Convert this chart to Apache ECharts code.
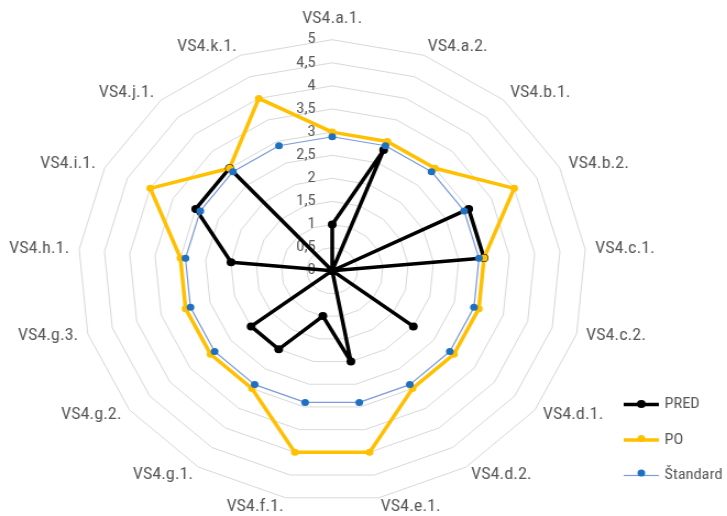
<!DOCTYPE html>
<html>
<head>
<meta charset="utf-8">
<script src="https://cdn.jsdelivr.net/npm/echarts@6/dist/echarts.min.js"></script>
<style>
html,body{margin:0;padding:0;background:#fff;overflow:hidden;width:727px;height:516px;}
#chart{width:661px;height:516px;transform:scaleX(1.1);transform-origin:0 0;}
</style>
</head>
<body>
<div id="chart"></div>
<script>
const categories = ['VS4.a.1.','VS4.a.2.','VS4.b.1.','VS4.b.2.','VS4.c.1.','VS4.c.2.','VS4.d.1.','VS4.d.2.','VS4.e.1.','VS4.f.1.','VS4.g.1.','VS4.g.2.','VS4.g.3.','VS4.h.1.','VS4.i.1.','VS4.j.1.','VS4.k.1.'];
const pred     = [1, 2.8, 0, 3, 3, 0, 2, 0, 2, 1, 2, 2, 0, 2, 3, 3, 0];
const po       = [3, 3, 3, 4, 3, 3, 3, 3, 4, 4, 3, 3, 3, 3, 4, 3, 4];
const standard = [2.9, 2.9, 2.9, 2.9, 2.9, 2.9, 2.9, 2.9, 2.9, 2.9, 2.9, 2.9, 2.9, 2.9, 2.9, 2.9, 2.9];
const seriesNames = ['PRED', 'PO', 'Štandard'];
const axisMin = 0, axisMax = 5, axisSplits = 10;

// ---- pick the narrowest installed sans font and size text to the reference widths ----
const mctx = document.createElement('canvas').getContext('2d');
function textW(family, size, txt) { mctx.font = size + 'px ' + family; return mctx.measureText(txt).width; }
function isInstalled(name) {
  const s = 'VS4.a.1. PRED Standard 0123456789';
  return textW("'" + name + "', monospace", 100, s) !== textW('monospace', 100, s) ||
         textW("'" + name + "', serif", 100, s) !== textW('serif', 100, s);
}
const candidates = ['Liberation Sans Narrow', 'Arial Narrow', 'Roboto Condensed', 'DejaVu Sans Condensed',
                    'Noto Sans Condensed', 'Open Sans Condensed', 'Liberation Sans'];
const picked = candidates.find(isInstalled);
const FONT = picked ? "'" + picked + "', sans-serif" : 'sans-serif';
function sizeFor(txt, targetW, lo, hi) {
  const s = targetW / (textW(FONT, 100, txt) / 100);
  return Math.max(lo, Math.min(hi, Math.round(s * 10) / 10));
}
const SX = 1.1; // horizontal stretch of the reference picture
const nameSize   = sizeFor('VS4.c.1.', 60 / SX, 12, 18);
const tickSize   = sizeFor('2,5', 19.5 / SX, 11, 17);
const legendSize = sizeFor('Štandard', 58 / SX, 11, 16);

// ECharts lays radar indicators counter-clockwise; reorder so they run clockwise like the reference
const order = categories.map((_, i) => (categories.length - i) % categories.length);
const reorder = arr => order.map(k => arr[k]);

const lineColors   = ['#000000', '#FFC000', '#7b9bd9'];
const markerColors = ['#000000', '#FFC000', '#1f70c1'];
const lineWidths   = [3.5, 3.5, 1.2];
const markerSizes  = [8, 7, 7];

// legend icons drawn in a 32x14 box: a line, and (separately) a centred dot
const IW = 32, IH = 14;
function lineIcon(w) {
  const y0 = (IH - w) / 2, y1 = (IH + w) / 2;
  return 'path://M0,' + y0 + 'L' + IW + ',' + y0 + 'L' + IW + ',' + y1 + 'L0,' + y1 + 'Z';
}
function dotIcon(d) {
  const r = d / 2, cx = IW / 2, cy = IH / 2;
  return 'path://M0,0L0.001,0L0,0.001Z' +
         'M' + IW + ',' + IH + 'L' + (IW - 0.001) + ',' + IH + 'L' + IW + ',' + (IH - 0.001) + 'Z' +
         'M' + (cx - r) + ',' + cy + 'A' + r + ',' + r + ' 0 1 1 ' + (cx + r) + ',' + cy +
         'A' + r + ',' + r + ' 0 1 1 ' + (cx - r) + ',' + cy + 'Z';
}
const legendBase = {
  orient: 'vertical', left: 567, top: 397, itemWidth: IW, itemHeight: IH, itemGap: 20.5, padding: 0,
  textStyle: {color: '#595959', fontSize: legendSize, fontFamily: FONT, lineHeight: 14}
};

const chart = echarts.init(document.getElementById('chart'), null, {renderer: 'canvas'});
chart.setOption({
  animation: false,
  backgroundColor: '#ffffff',
  legend: [
    Object.assign({}, legendBase, {
      data: seriesNames.map((n, i) => ({name: n, icon: lineIcon(lineWidths[i]), itemStyle: {color: lineColors[i]}}))
    }),
    Object.assign({}, legendBase, {
      formatter: () => '',
      data: seriesNames.map((n, i) => ({name: n, icon: dotIcon(markerSizes[i]), itemStyle: {color: markerColors[i]}}))
    })
  ],
  radar: {
    center: [302, 270.7],
    radius: 231,
    startAngle: 90,
    splitNumber: axisSplits,
    shape: 'polygon',
    axisName: {
      color: '#595959', fontSize: nameSize, fontFamily: FONT,
      formatter: name => name === categories[0] ? '{top|' + name + '}' : name,
      rich: {top: {color: '#595959', fontSize: nameSize, fontFamily: FONT, padding: [0, 0, 4, 0]}}
    },
    axisNameGap: 9,
    axisLine: {show: false},
    axisTick: {show: false},
    axisLabel: {show: false},
    splitLine: {lineStyle: {color: '#d9d9d9', width: 1}},
    splitArea: {show: false},
    indicator: order.map((k, i) => {
      const ind = {name: categories[k], min: axisMin, max: axisMax};
      if (i === 0) {
        ind.axisLabel = {
          show: true, color: '#595959', fontSize: tickSize, fontFamily: FONT, margin: 15,
          formatter: v => String(v).replace('.', ',')
        };
      }
      return ind;
    })
  },
  series: [{
    type: 'radar',
    symbol: 'circle',
    data: [pred, po, standard].map((vals, i) => ({
      name: seriesNames[i],
      value: reorder(vals),
      symbolSize: markerSizes[i],
      lineStyle: {color: lineColors[i], width: lineWidths[i]},
      itemStyle: {color: markerColors[i]}
    }))
  }]
});
</script>
</body>
</html>
